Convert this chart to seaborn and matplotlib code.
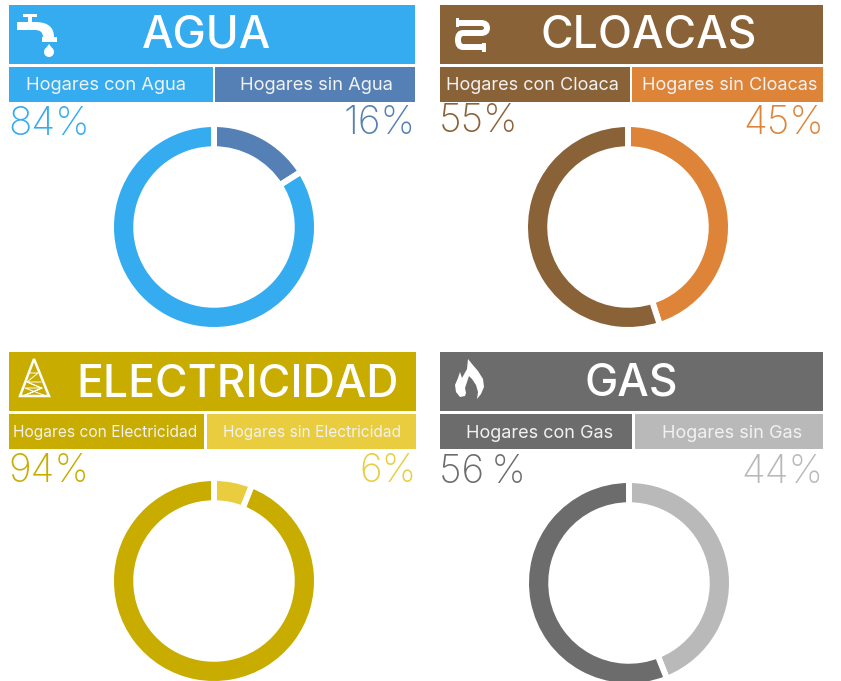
import matplotlib
matplotlib.use('Agg')
import matplotlib.pyplot as plt
from matplotlib.patches import Rectangle, Polygon, PathPatch, Circle
from matplotlib.path import Path
import seaborn as sns

sns.set_theme(style='white')
plt.rcParams['font.family'] = ['Inter', 'DejaVu Sans']

# Datos
servicios = ['AGUA', 'CLOACAS', 'ELECTRICIDAD', 'GAS']
etiquetas_con = ['Hogares con Agua', 'Hogares con Cloaca', 'Hogares con Electricidad', 'Hogares con Gas']
etiquetas_sin = ['Hogares sin Agua', 'Hogares sin Cloacas', 'Hogares sin Electricidad', 'Hogares sin Gas']
hogares_con = [84, 55, 94, 56]
hogares_sin = [16, 45, 6, 44]
textos_con = ['84%', '55%', '94%', '56\u2009%']
textos_sin = ['16%', '45%', '6%', '44%']
colores_con = ['#35acf0', '#8a6238', '#c9ac00', '#6c6c6c']
colores_sin = ['#5480b5', '#dd8439', '#e9cd3f', '#b9b9b9']

W, H = 841, 681

# Layout en pixeles
paneles = [
    dict(x0=9, x1=415, y=5, corte=214, hueco=1, cx=214, cy=227, tx=207, ytit=48, xcon=106, xsin=316,
         ycon=135, ysin=134, tam_sub=13.2),
    dict(x0=440, x1=823, y=5, corte=631.5, hueco=1, cx=628, cy=227, tx=649, ytit=47, xcon=532, xsin=730,
         ycon=132, ysin=134, tam_sub=13),
    dict(x0=9, x1=416, y=352, corte=205.5, hueco=1.5, cx=214, cy=581, tx=238, ytit=397, xcon=105, xsin=312,
         ycon=482, ysin=482, tam_sub=11.2),
    dict(x0=440, x1=823, y=352, corte=634, hueco=1.5, cx=629, cy=583, tx=631, ytit=396, xcon=540, xsin=732,
         ycon=483, ysin=483, tam_sub=13),
]

fig = plt.figure(figsize=(W / 100, H / 100), dpi=100, facecolor='white')
ax = fig.add_axes([0, 0, 1, 1])
ax.set_xlim(0, W)
ax.set_ylim(H, 0)
ax.axis('off')


def icono_canilla(ax, x, y):
    for r in [(13, 9, 14, 3), (18, 12, 4, 6), (7, 17, 19, 8), (32, 32, 15, 5)]:
        ax.add_patch(Rectangle((x + r[0], y + r[1]), r[2], r[3], fc='white', ec='none'))
    codo = [(25, 17), (44, 17), (44, 32), (33, 32), (33, 25), (25, 25), (25, 17)]
    ax.add_patch(PathPatch(Path([(x + a, y + b) for a, b in codo], [1, 3, 3, 2, 3, 3, 79]), fc='white', ec='none'))
    ax.add_patch(Circle((x + 39, y + 47), 5, fc='white', ec='none'))
    ax.add_patch(Polygon([(x + 39, y + 39), (x + 34.5, y + 45), (x + 43.5, y + 45)], fc='white', ec='none'))


def icono_caño(ax, x, y):
    linea = [(14, 18), (36, 18), (42, 18), (42, 23), (42, 28), (36, 28), (18, 28), (13, 28), (13, 35), (13, 42), (18, 42), (37, 42)]
    cod = [1, 2, 3, 3, 3, 3, 2, 3, 3, 3, 3, 2]
    ax.add_patch(PathPatch(Path([(x + a, y + b) for a, b in linea], cod), fc='none', ec='white', lw=4.3))
    ax.add_patch(Rectangle((x + 11, y + 13), 3.5, 9, fc='white', ec='none'))
    ax.add_patch(Rectangle((x + 37, y + 38), 4.5, 9, fc='white', ec='none'))


def icono_torre(ax, x, y):
    ax.add_patch(Polygon([(x + 24, y + 7), (x + 39, y + 44), (x + 10, y + 44)], fc='none', ec='white', lw=1.8, joinstyle='miter'))
    ax.plot([x + 20, x + 28, x + 17, x + 32, x + 13, x + 32],
            [y + 21, y + 21, y + 30, y + 36, y + 44, y + 36], color='white', lw=0.7)
    ax.plot([x + 31, x + 17, x + 31, x + 15, x + 36],
            [y + 30, y + 30, y + 36, y + 36, y + 44], color='white', lw=0.7)


def icono_llama(ax, x, y):
    puntos = [(23, 7), (27, 12), (33, 19), (38, 27), (39, 35), (36, 42), (32, 47), (33, 40), (31, 33), (27, 27), (24, 24),
              (22, 30), (20, 36), (21, 41), (20, 44), (15, 45), (11, 40), (10, 33), (13, 26), (15, 20), (17, 26), (22, 17)]
    ax.add_patch(Polygon([(x + a, y + b) for a, b in puntos], fc='white', ec='none'))


iconos = [(icono_canilla, 10, 5), (icono_caño, 445, 5), (icono_torre, 10, 352), (icono_llama, 445, 352)]

for i, p in enumerate(paneles):
    x0, x1, y, corte, hueco = p['x0'], p['x1'], p['y'], p['corte'], p['hueco']
    color_con, color_sin = colores_con[i], colores_sin[i]

    # Barra de titulo y subtitulos
    ax.add_patch(Rectangle((x0, y), x1 - x0, 59, fc=color_con, ec='none'))
    ax.add_patch(Rectangle((x0, y + 61.5), corte - hueco - x0, 35, fc=color_con, ec='none'))
    ax.add_patch(Rectangle((corte + hueco, y + 61.5), x1 - corte - hueco, 35, fc=color_sin, ec='none'))

    ax.text(p['tx'], p['ytit'], servicios[i], color='white', fontsize=32, fontweight='medium',
            ha='center', va='baseline')
    ax.text(p['xcon'], y + 85.5, etiquetas_con[i], color='#f2f2f2', fontsize=p['tam_sub'], ha='center', va='baseline')
    ax.text(p['xsin'], y + 85.5, etiquetas_sin[i], color='#f2f2f2', fontsize=p['tam_sub'], ha='center', va='baseline')

    # Porcentajes
    ax.text(x0 - 1, p['ycon'], textos_con[i], color=color_con, fontsize=28, fontweight='light', ha='left', va='baseline')
    ax.text(x1 + 1, p['ysin'], textos_sin[i], color=color_sin, fontsize=28, fontweight='light', ha='right', va='baseline')

    func, ix, iy = iconos[i]
    func(ax, ix, iy)

    # Dona
    r = 103
    ax_d = fig.add_axes([(p['cx'] - r) / W, 1 - (p['cy'] + r) / H, 2 * r / W, 2 * r / H])
    ax_d.pie([hogares_sin[i], hogares_con[i]], colors=[color_sin, color_con], startangle=90, counterclock=False,
             radius=1, wedgeprops=dict(width=0.245, edgecolor='white', linewidth=4.3))
    ax_d.set_xlim(-1, 1)
    ax_d.set_ylim(-1, 1)

fig.savefig('out.png', dpi=100, facecolor='white')
